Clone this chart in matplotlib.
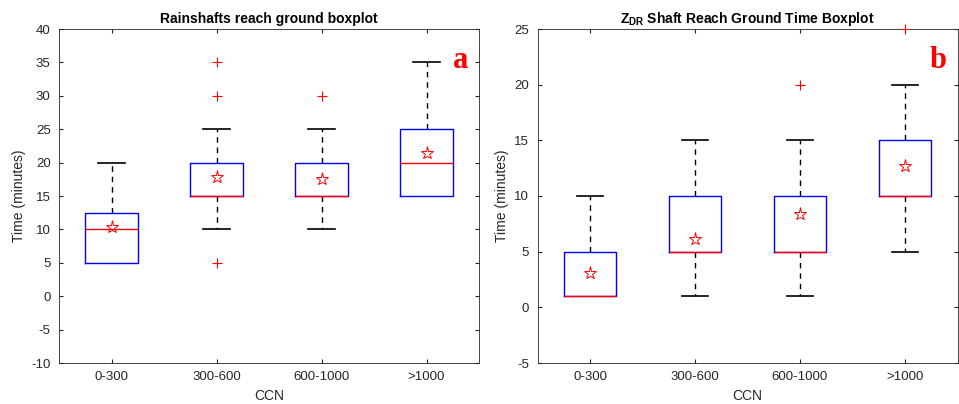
"""Boxplots of time for rainshafts / ZDR shafts to reach ground, by CCN bin."""

import matplotlib
matplotlib.use("Agg")
import matplotlib.pyplot as plt

plt.rcParams["font.family"] = ["Liberation Sans", "DejaVu Sans"]
plt.rcParams["mathtext.fontset"] = "custom"
plt.rcParams["mathtext.rm"] = "Liberation Sans"
plt.rcParams["mathtext.bf"] = "Liberation Sans:bold"
plt.rcParams["axes.unicode_minus"] = False

CATEGORIES = ["0-300", "300-600", "600-1000", ">1000"]

# panel a: rainshafts reach ground (minutes)
A_Q1 = [5, 15, 15, 15]
A_MED = [10, 15, 15, 20]
A_Q3 = [12.5, 20, 20, 25]
A_LO = [5, 10, 10, 15]
A_HI = [20, 25, 25, 35]
A_MEAN = [10.3, 17.9, 17.6, 21.4]
A_OUT = [[], [5, 30, 35], [30], []]

# panel b: ZDR shaft reach ground (minutes)
B_Q1 = [1, 5, 5, 10]
B_MED = [1, 5, 5, 10]
B_Q3 = [5, 10, 10, 15]
B_LO = [1, 1, 1, 5]
B_HI = [10, 15, 15, 20]
B_MEAN = [3.1, 6.1, 8.35, 12.7]
B_OUT = [[], [], [20], [25]]

AX_COLOR = "#262626"


def draw_panel(ax, q1, med, q3, lo, hi, mean, out, title, ylim, letter):
    stats = []
    for i, lab in enumerate(CATEGORIES):
        stats.append({"label": lab, "q1": q1[i], "med": med[i], "q3": q3[i],
                      "whislo": lo[i], "whishi": hi[i], "mean": mean[i],
                      "fliers": out[i]})
    parts = ax.bxp(stats, widths=0.5, showmeans=True, capwidths=0.25,
                   boxprops=dict(color="blue", linewidth=1.0, zorder=4),
                   medianprops=dict(color="red", linewidth=1.0, zorder=5),
                   whiskerprops=dict(color="black", linestyle=(0, (4, 3.5)), linewidth=1.0),
                   capprops=dict(color="black", linewidth=1.2, zorder=3),
                   flierprops=dict(marker="+", markeredgecolor="red", markersize=7,
                                   linestyle="none", markeredgewidth=0.8),
                   meanprops=dict(marker="*", markerfacecolor="none", markeredgecolor="red",
                                  markersize=9.5, markeredgewidth=0.7, zorder=6))
    # a whisker of zero length has no visible cap in the original
    for i in range(len(CATEGORIES)):
        if lo[i] == q1[i]:
            parts["caps"][2 * i].set_visible(False)
        if hi[i] == q3[i]:
            parts["caps"][2 * i + 1].set_visible(False)
    # outliers sitting on the axis limit stay fully visible
    for fl in parts["fliers"]:
        fl.set_clip_on(False)
        fl.set_zorder(7)
    ax.set_xlim(0.5, 4.5)
    ax.set_ylim(*ylim)
    ax.set_yticks(range(ylim[0], ylim[1] + 1, 5))
    ax.set_title(title, fontsize=10, fontweight="bold", pad=4)
    ax.set_xlabel("CCN", fontsize=10, color=AX_COLOR, labelpad=4)
    ax.set_ylabel("Time (minutes)", fontsize=10, color=AX_COLOR)
    ax.tick_params(direction="in", top=True, right=True, labelsize=9.5,
                   colors=AX_COLOR, length=3, pad=6)
    for sp in ax.spines.values():
        sp.set_color(AX_COLOR)
        sp.set_linewidth(0.6)
    ax.text(0.975, 0.95, letter, transform=ax.transAxes, ha="right", va="top",
            fontsize=22, fontweight="bold", color="red",
            family=["Liberation Serif", "DejaVu Serif"])


fig = plt.figure(figsize=(9.59, 4.04), dpi=100)
ax_a = fig.add_axes([59 / 959, 1 - 363 / 404, 420 / 959, 334 / 404])
ax_b = fig.add_axes([537.5 / 959, 1 - 363 / 404, 420 / 959, 334 / 404])

draw_panel(ax_a, A_Q1, A_MED, A_Q3, A_LO, A_HI, A_MEAN, A_OUT,
           "Rainshafts reach ground boxplot", (-10, 40), "a")
draw_panel(ax_b, B_Q1, B_MED, B_Q3, B_LO, B_HI, B_MEAN, B_OUT,
           r"Z$_{\mathbf{DR}}$ Shaft Reach Ground Time Boxplot", (-5, 25), "b")

fig.savefig("out.png", dpi=100)
